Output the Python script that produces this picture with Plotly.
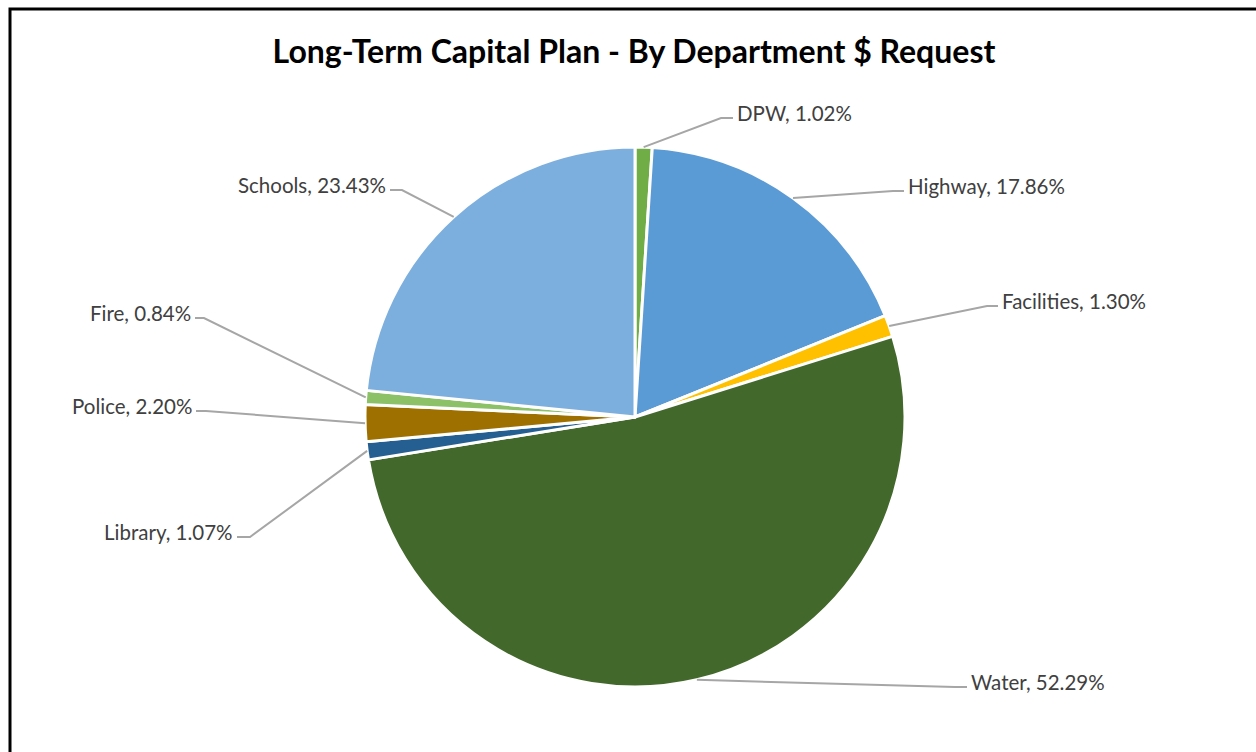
import math
import plotly.graph_objects as go

# Department share of the long-term capital request (percent), clockwise from 12 o'clock
departments = ["DPW", "Highway", "Facilities", "Water", "Library", "Police", "Fire", "Schools"]
shares = [1.02, 17.86, 1.30, 52.29, 1.07, 2.20, 0.84, 23.43]
colors = ["#70AD47", "#5B9BD5", "#FFC000", "#43682B", "#255E91", "#9E7000", "#8CC168", "#7CAFDD"]

W, H = 1256, 752
CX, CY, R = 635, 417, 270  # pie centre / radius in pixels

# Label placement: elbow point, end point of the leader, text side
label_layout = {
    "DPW":        ((721, 118), (733, 118), "left"),
    "Highway":    ((893, 191), (904, 191), "left"),
    "Facilities": ((987, 306), (998, 306), "left"),
    "Water":      ((955, 687), (967, 687), "left"),
    "Library":    ((250, 537), (237, 537), "right"),
    "Police":     ((206, 411), (196, 411), "right"),
    "Fire":       ((204, 318), (195, 318), "right"),
    "Schools":    ((402, 190), (390, 190), "right"),
}


def px(x):
    return x / W


def py(y):
    return 1 - y / H


fig = go.Figure(go.Pie(
    labels=departments,
    values=shares,
    sort=False,
    direction="clockwise",
    rotation=0,
    marker=dict(colors=colors, line=dict(color="white", width=3)),
    textinfo="none",
    hoverinfo="label+percent",
    showlegend=False,
    domain=dict(x=[px(CX - R), px(CX + R)], y=[py(CY + R), py(CY - R)]),
))

shapes = []
annotations = []
total = sum(shares)
cum = 0.0
for name, val in zip(departments, shares):
    mid = (cum + val / 2) / total * 2 * math.pi
    cum += val
    rx = CX + R * math.sin(mid)
    ry = CY - R * math.cos(mid)
    (ex, ey), (tx, ty), side = label_layout[name]
    path = f"M {px(rx)},{py(ry)} L {px(ex)},{py(ey)} L {px(tx)},{py(ty)}"
    shapes.append(dict(type="path", xref="paper", yref="paper", path=path,
                       line=dict(color="#A6A6A6", width=2)))
    gap = 2 if side == "left" else -2
    annotations.append(dict(
        x=px(tx + gap), y=py(ty - 5), xref="paper", yref="paper",
        text=f"{name}, {val:.2f}%", showarrow=False,
        xanchor=side, yanchor="middle",
        font=dict(family="Lato, sans-serif", size=20.5, color="#404040"),
    ))

# chart frame
shapes.append(dict(type="rect", xref="paper", yref="paper",
                   x0=px(10), y0=py(800), x1=px(1300), y1=py(9),
                   line=dict(color="black", width=3)))

fig.update_layout(
    width=W, height=H,
    margin=dict(l=0, r=0, t=0, b=0),
    paper_bgcolor="white",
    plot_bgcolor="white",
    title=dict(text="<b>Long-Term Capital Plan - By Department $ Request</b>",
               x=px(634), xanchor="center", y=py(52), yanchor="middle",
               font=dict(family="Lato, sans-serif", size=32, color="black")),
    shapes=shapes,
    annotations=annotations,
)

fig.write_html("out.html")
